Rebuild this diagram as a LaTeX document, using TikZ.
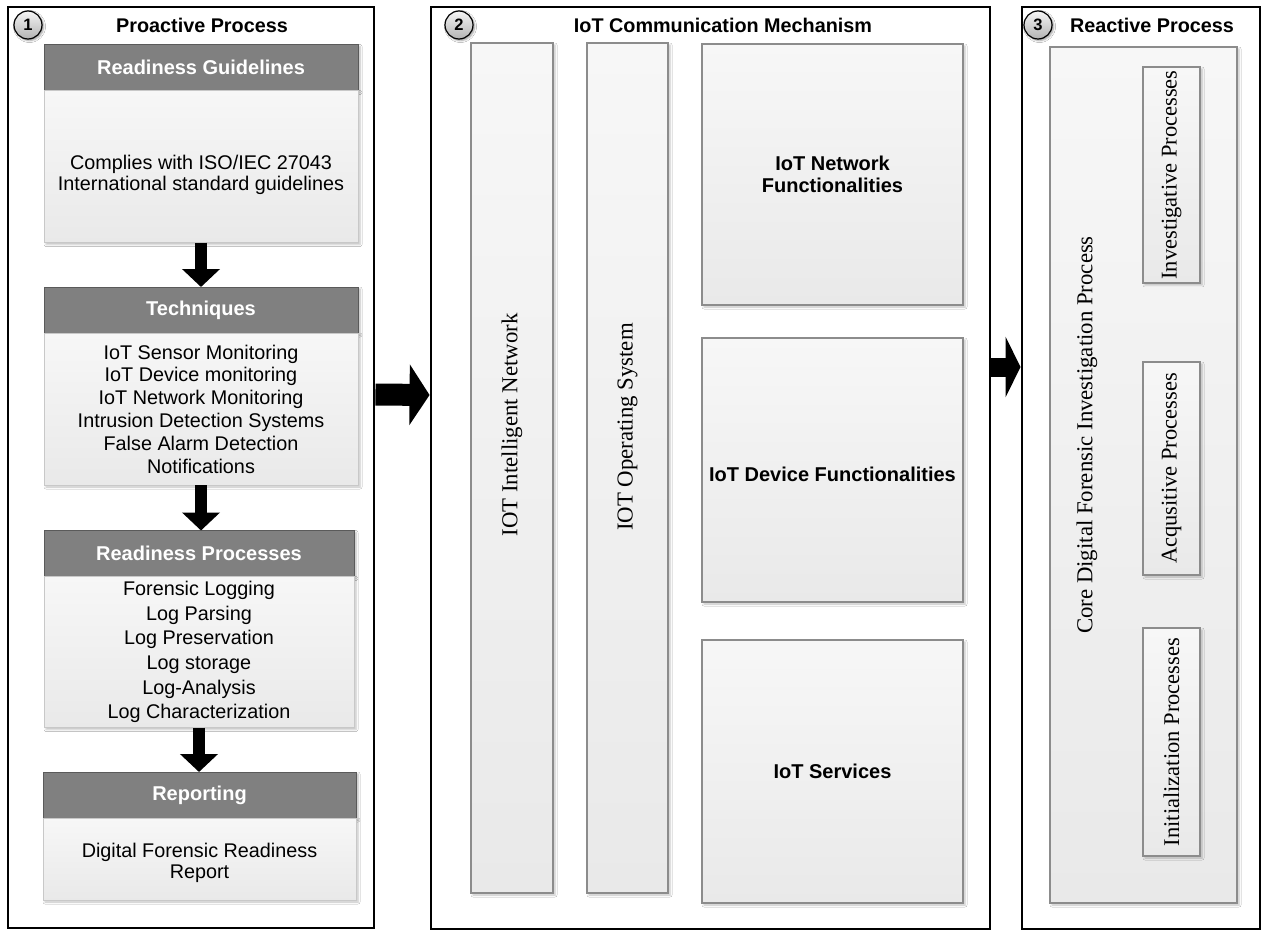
\documentclass[tikz,border=0pt]{standalone}
\usepackage{fontspec}
\setmainfont{Liberation Sans}
\newfontfamily\bookserif{Liberation Serif}
\usepackage{tikz}
\usetikzlibrary{calc,positioning,arrows.meta,shadows.blur}
\definecolor{headgray}{RGB}{128,128,128}
\definecolor{headline}{RGB}{90,90,90}
\definecolor{bodytop}{RGB}{247,247,247}
\definecolor{bodybottom}{RGB}{233,233,233}
\definecolor{bodyline}{RGB}{200,200,200}
\definecolor{boxline}{RGB}{140,140,140}
\tikzset{
panel_frame/.style={rectangle, draw=black, line width=2.9pt, fill=white},
badge/.style={circle, draw=black, line width=1.2pt, top color=gray!8, bottom color=gray!60, minimum size=28pt, inner sep=0pt, font=\bfseries\fontsize{16.5}{16.5}\selectfont, blur shadow={shadow xshift=1.5pt, shadow yshift=-1.5pt, shadow blur radius=2pt}},
title_text/.style={font=\bfseries\fontsize{19.8}{22}\selectfont},
head_bar/.style={rectangle, draw=headline, line width=1pt, fill=headgray, text=white, font=\bfseries\fontsize{20}{22}\selectfont, minimum width=314pt, minimum height=46pt, outer sep=0pt, blur shadow={shadow xshift=2pt, shadow yshift=-2pt, shadow blur radius=2pt, shadow opacity=30}},
body_box/.style={rectangle, draw=bodyline, line width=1pt, top color=bodytop, bottom color=bodybottom, align=center, minimum width=314pt, outer sep=0pt, inner sep=0pt, font=\fontsize{19.8}{21}\selectfont, blur shadow={shadow xshift=2pt, shadow yshift=-2pt, shadow blur radius=2pt, shadow opacity=25}},
column_box/.style={rectangle, draw=boxline, line width=1.2pt, top color=bodytop, bottom color=bodybottom, outer sep=0pt, blur shadow={shadow xshift=2pt, shadow yshift=-2pt, shadow blur radius=2pt, shadow opacity=25}},
func_box/.style={column_box, align=center, font=\bfseries\fontsize{20}{22}\selectfont},
rot_text/.style={rotate=90, font=\bookserif\fontsize{22.8}{24}\selectfont},
stage_box/.style={column_box, rotate=90, minimum height=57pt, font=\bookserif\fontsize{22.5}{24}\selectfont},
flow_down/.style={line width=12pt, -{Triangle[width=37pt,length=18pt]}},
flow_right/.style={-{Triangle[width=60pt,length=#1]}},
flow_right/.default=20pt
}

\begin{document}
\begin{tikzpicture}[x=1pt, y=-1pt]
    \useasboundingbox (0,0) rectangle (1262,931);
    \node[panel_frame, minimum width=366pt, minimum height=921pt] (panel_1) at (191,467.5) {};
    \node[panel_frame, minimum width=559pt, minimum height=922pt] (panel_2) at (710.5,468) {};
    \node[panel_frame, minimum width=238pt, minimum height=922pt] (panel_3) at (1141,468) {};

    \node[badge] (badge_1) at (28,25) {1};
    \node[badge] (badge_2) at (459,25) {2};
    \node[badge] (badge_3) at (1038,25) {3};
    \node[title_text] (title_1) at (202,25) {Proactive Process};
    \node[title_text] (title_2) at (723,25) {IoT Communication Mechanism};
    \node[title_text] (title_3) at (1152,25) {Reactive Process};

    % proactive side
    \node[head_bar] (guide_head) at (201,67.5) {Readiness Guidelines};
    \node[body_box, minimum height=152pt] (guide_body) [below=0 of guide_head] {\rule{0pt}{32pt}Complies with ISO/IEC 27043\\International standard guidelines};
    \node[head_bar] (tech_head) at (201,310) {Techniques};
    \node[body_box, minimum height=152pt, font=\fontsize{19.8}{22.8}\selectfont] (tech_body) [below=0 of tech_head] {IoT Sensor Monitoring\\IoT Device monitoring\\IoT Network Monitoring\\Intrusion Detection Systems\\False Alarm Detection\\Notifications};
    \node[head_bar, minimum width=310pt] (proc_head) at (199,553.5) {Readiness Processes};
    \node[body_box, minimum width=310pt, minimum height=151pt, font=\fontsize{19.8}{24.7}\selectfont] (proc_body) [below=0 of proc_head] {Forensic Logging\\Log Parsing\\Log Preservation\\Log storage\\Log-Analysis\\Log Characterization};
    \node[head_bar, minimum width=313pt] (rep_head) at (199.5,795) {Reporting};
    \node[body_box, minimum width=313pt, minimum height=82pt] (rep_body) [below=0 of rep_head] {\rule{0pt}{22pt}Digital Forensic Readiness\\Report};
    \draw[flow_down] (guide_body.south) -- (tech_head.north);
    \draw[flow_down] (tech_body.south) -- (tech_body.south |- proc_head.north);
    \draw[flow_down] (proc_body.south) -- (proc_body.south |- rep_head.north);

    % communication mechanism
    \node[column_box, minimum width=82pt, minimum height=850pt] (col_net) at (512,468) {};
    \node[rot_text] (net_label) at ([yshift=43pt]col_net.center) {IOT Intelligent Network};
    \node[column_box, minimum width=81pt, minimum height=850pt] (col_os) at (627.5,468) {};
    \node[rot_text] (os_label) at ([yshift=41pt]col_os.center) {IOT Operating System};
    \node[func_box, minimum width=261pt, minimum height=261pt] (net_func) at (832.5,174.5) {IoT Network\\Functionalities};
    \node[func_box, minimum width=261pt, minimum height=264pt] (dev_func) [below=33pt of net_func] {\rule{0pt}{24pt}IoT Device Functionalities};
    \node[func_box, minimum width=261pt, minimum height=263pt] (iot_serv) [below=38pt of dev_func] {IoT Services};

    % reactive side
    \node[column_box, minimum width=187pt, minimum height=856pt] (core_box) at (1143.5,475) {};
    \node[rot_text] (core_label) at (1087,435) {Core Digital Forensic Investigation Process};
    \node[stage_box, minimum width=214pt] (invest) at (1171.5,175) {Investigative Processes};
    \node[stage_box, minimum width=213pt] (acq) at (1171.5,468.5) {Acqusitive Processes};
    \node[stage_box, minimum width=228pt] (init) at (1171.5,742) {Initialization Processes};

    \draw[flow_right, line width=22pt] ([yshift=73pt]panel_1.east) -- ([yshift=73pt]panel_2.west);
    \draw[flow_right=15pt, line width=19pt] ([yshift=101pt]panel_2.east) -- ([yshift=101pt]panel_3.west);
\end{tikzpicture}
\end{document}
